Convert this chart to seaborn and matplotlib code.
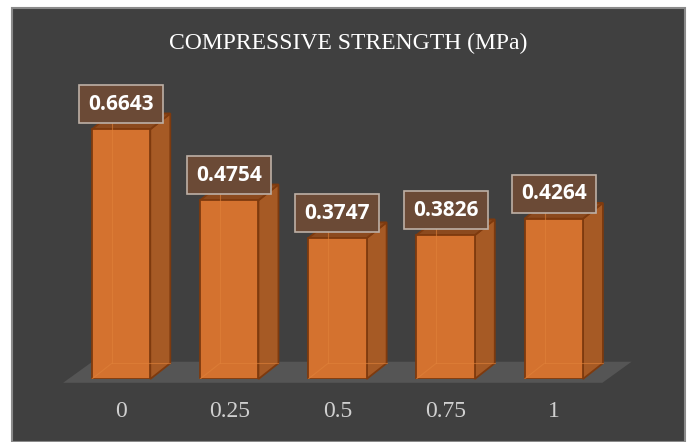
import numpy as np
import pandas as pd
import matplotlib
matplotlib.use('Agg')
import matplotlib.pyplot as plt
import seaborn as sns
from matplotlib.patches import Polygon, Rectangle

# data
ratios = ['0', '0.25', '0.5', '0.75', '1']
strength = [0.6643, 0.4754, 0.3747, 0.3826, 0.4264]
title = 'COMPRESSIVE STRENGTH (MPa)'

df = pd.DataFrame({'ratio': ratios, 'strength': strength})

bg = '#404040'
front_col = '#D4722F'
side_col = '#A65A25'
top_col = '#8C4A1E'
edge_col = '#7E3A0E'

sns.set_style('dark')
W, H = 688, 442
fig = plt.figure(figsize=(W / 100, H / 100), dpi=100)
fig.patch.set_facecolor('white')

# dark chart area with thin grey frame (white margin top/left)
fig.patches.append(Rectangle((12 / W, 0), 673 / W, 434 / H, transform=fig.transFigure,
                             facecolor=bg, edgecolor='#8A8A8A', lw=1.5, zorder=-5))

ax = fig.add_axes([0.0974, 0.1425, 0.786, 0.6805])
ax.set_zorder(2)
ax.set_facecolor('none')

sns.barplot(data=df, x='ratio', y='strength', order=ratios, color=front_col,
            saturation=1, width=0.54, edgecolor=edge_col, linewidth=1.3, ax=ax, zorder=3)

ax.set_xlim(-0.5, 4.5)
ax.set_ylim(0, 0.8)

# 3d depth offsets (category units / data units)
dx, dy = 0.185, 0.042

# floor
fdx, fdy = 0.27, 0.056
floor = Polygon([(-0.536, -0.01), (4.45, -0.01), (4.45 + fdx, -0.01 + fdy), (-0.536 + fdx, -0.01 + fdy)],
                closed=True, facecolor='#555555', edgecolor='none', clip_on=False, zorder=1)
ax.add_patch(floor)

box_w, box_h = 0.776, 0.101
for p, v in zip(ax.patches[:len(strength)], strength):
    x0 = p.get_x()
    w = p.get_width()
    h = p.get_height()
    x1 = x0 + w
    xc = x0 + w / 2
    side = Polygon([(x1, 0), (x1 + dx, dy), (x1 + dx, h + dy), (x1, h)], closed=True,
                   facecolor=side_col, edgecolor=edge_col, lw=1.3, zorder=2.5, clip_on=False)
    top = Polygon([(x0, h), (x0 + dx, h + dy), (x1 + dx, h + dy), (x1, h)], closed=True,
                  facecolor=top_col, edgecolor=edge_col, lw=1.3, zorder=2.5, clip_on=False)
    ax.add_patch(side)
    ax.add_patch(top)
    # faint hidden edges
    ax.plot([x0 + dx, x0 + dx], [dy, h + dy], color='#E0823A', lw=0.8, alpha=0.6, zorder=4)
    ax.plot([x0, x0 + dx], [0, dy], color='#E0823A', lw=0.8, alpha=0.6, zorder=4)
    ax.plot([x0 + dx, x1 + dx], [dy, dy], color='#E0823A', lw=0.8, alpha=0.6, zorder=4)
    # data label box
    yc = h + 0.066
    ax.add_patch(Rectangle((xc - box_w / 2, yc - box_h / 2), box_w, box_h,
                           facecolor='#6B4A36', edgecolor='#BDB0A6', lw=1.2, zorder=5, clip_on=False))
    ax.text(xc, yc, f'{v:.4f}', ha='center', va='center',
            fontsize=15, fontweight='bold', color='white', family=['Open Sans', 'DejaVu Sans'],
            zorder=6)

ax.set_xlabel('')
ax.set_ylabel('')
ax.set_yticks([])
ax.tick_params(axis='x', length=0, pad=16, labelsize=17, labelcolor='#D0D0D0')
for t in ax.get_xticklabels():
    t.set_family(['Liberation Serif', 'DejaVu Serif'])
for s in ax.spines.values():
    s.set_visible(False)
ax.grid(False)

fig.text(348 / W, 1 - 43 / H, title, ha='center', va='center', fontsize=17, color='white',
         family=['Liberation Serif', 'DejaVu Serif'])

fig.savefig('out.png', dpi=100, facecolor='white')
